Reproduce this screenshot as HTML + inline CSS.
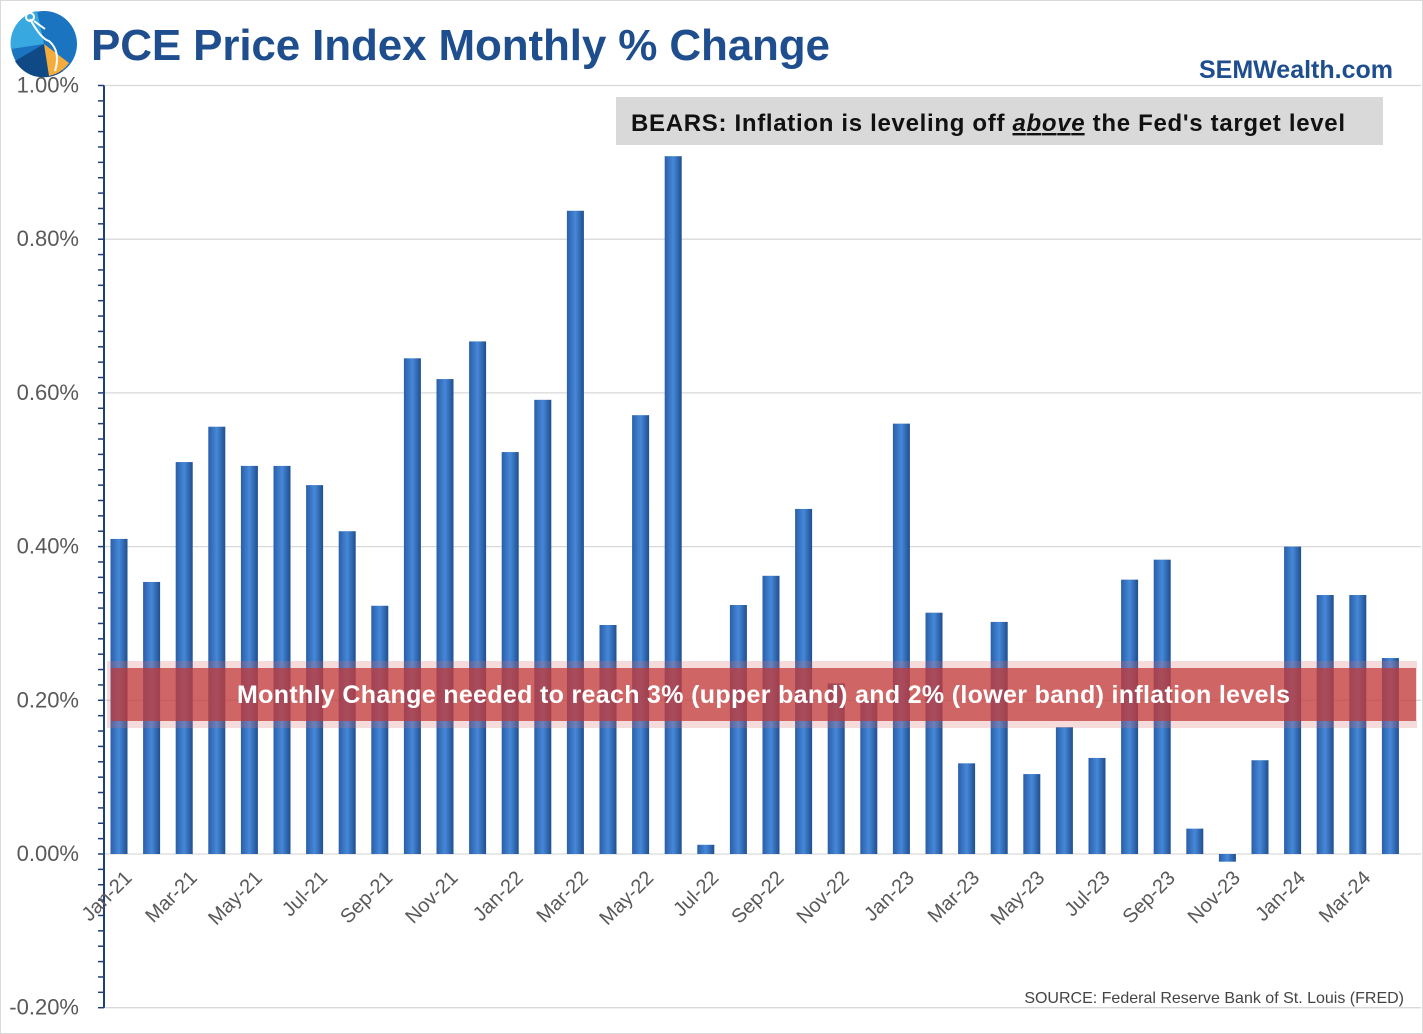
<!DOCTYPE html>
<html><head><meta charset="utf-8"><style>
body{margin:0;background:#fff;font-family:"Liberation Sans",sans-serif}
#wrap{position:relative;width:1423px;height:1034px;overflow:hidden;border:1px solid #d9d9d9;box-sizing:border-box}
</style></head><body>
<div id="wrap">
<svg id="chart" width="1423" height="1034" xmlns="http://www.w3.org/2000/svg">
<defs>
<linearGradient id="bg" x1="0" x2="1" y1="0" y2="0">
<stop offset="0" stop-color="#2a5ea8"/><stop offset="0.5" stop-color="#4688d8"/><stop offset="1" stop-color="#1f4e8f"/>
</linearGradient>
</defs>
<g>
<circle cx="43" cy="43" r="33" fill="#1b74bf"/>
<path d="M43 43 L10 48 A33 33 0 0 1 36 10 Z" fill="#38a9e0"/>
<path d="M43 43 L62 70 A33 33 0 0 1 14 60 Z" fill="#0f4a87"/>
<path d="M43 43 L68 62 A33 33 0 0 1 48 75 Z" fill="#f6ac3c"/>
<path d="M29 18 Q40 38 48 40 Q60 50 54 70 M33 20 L44 28" stroke="#fff" stroke-width="2" fill="none"/>
<circle cx="29" cy="16" r="4" fill="none" stroke="#fff" stroke-width="2"/>
</g>
<text x="90" y="59" font-size="44" font-weight="bold" fill="#1f4e8f" textLength="739">PCE Price Index Monthly % Change</text>
<text x="1392" y="77" text-anchor="end" font-size="25" font-weight="bold" fill="#1f4e8f">SEMWealth.com</text>
<g id="grid"></g>
<g id="bars"></g>
<g id="axis"></g>
<g>
<rect x="615" y="96" width="767" height="48" fill="#d9d9d9"/>
<text x="630" y="130" font-size="24" font-weight="bold" fill="#111" textLength="714">BEARS: Inflation is leveling off <tspan font-style="italic" text-decoration="underline">above</tspan> the Fed's target level</text>
</g>
<g>
<rect x="106" y="660" width="1310" height="67" fill="rgba(220,110,110,0.25)"/>
<rect x="110" y="667" width="1305" height="53" fill="rgba(192,55,55,0.72)"/>
<text x="236" y="702" font-size="25" font-weight="bold" fill="#fff" textLength="1053">Monthly Change needed to reach 3% (upper band) and 2% (lower band) inflation levels</text>
</g>
<text x="1403" y="1002" text-anchor="end" font-size="16" fill="#444">SOURCE: Federal Reserve Bank of St. Louis (FRED)</text>
</svg>
</div>
<script>
const months = ["Jan-21","Feb-21","Mar-21","Apr-21","May-21","Jun-21","Jul-21","Aug-21","Sep-21","Oct-21","Nov-21","Dec-21","Jan-22","Feb-22","Mar-22","Apr-22","May-22","Jun-22","Jul-22","Aug-22","Sep-22","Oct-22","Nov-22","Dec-22","Jan-23","Feb-23","Mar-23","Apr-23","May-23","Jun-23","Jul-23","Aug-23","Sep-23","Oct-23","Nov-23","Dec-23","Jan-24","Feb-24","Mar-24","Apr-24"];
const values = [0.41,0.354,0.51,0.556,0.505,0.505,0.48,0.42,0.323,0.645,0.618,0.667,0.523,0.591,0.837,0.298,0.571,0.908,0.012,0.324,0.362,0.449,0.222,0.2,0.56,0.314,0.118,0.302,0.104,0.165,0.125,0.357,0.383,0.033,-0.01,0.122,0.40,0.337,0.337,0.255];
const yTicks = [-0.2,0,0.2,0.4,0.6,0.8,1.0];
const NS="http://www.w3.org/2000/svg";
const y0=853, pxPer=768.5;
const yS=v=>y0-v*pxPer;
const xS=i=>118+i*32.6;
function mk(tag,attrs,parent){const e=document.createElementNS(NS,tag);for(const k in attrs)e.setAttribute(k,attrs[k]);parent.appendChild(e);return e;}
const grid=document.getElementById('grid'),bars=document.getElementById('bars'),axis=document.getElementById('axis');
yTicks.forEach(t=>{
  const l=mk('line',{x1:103,x2:1420,y1:yS(t),y2:yS(t),stroke:'#d9d9d9','stroke-width':1.3},grid);
  
  
  const tx=mk('text',{x:78,y:yS(t)+7,'text-anchor':'end','font-size':22,fill:'#595959'},axis);
  tx.textContent=t.toFixed(2)+'%';
  
  
});
const ax=mk('line',{x1:103,x2:103,y1:yS(1.0),y2:yS(-0.2),stroke:'#1f3f77','stroke-width':2},axis);


for(let v=-0.2;v<=1.0001;v+=0.02){
  const tk=mk('line',{x1:97,x2:103,y1:yS(v),y2:yS(v),stroke:'#1f3f77','stroke-width':1.5},axis);
  
  
}
values.forEach((v,i)=>{
  const x=xS(i)-8.5, top=Math.min(yS(v),y0), h=Math.abs(yS(v)-y0);
  const r=mk('rect',{x:x,y:top,width:17,height:Math.max(h,1),fill:'url(#bg)'},bars);
  
  
  if(i%2===0){
    const t=mk('text',{x:xS(i)+14,y:878,'text-anchor':'end','font-size':20,fill:'#595959',transform:`rotate(-45 ${xS(i)+14} 878)`},axis);
    t.textContent=months[i];
    
    
  }
});
</script>
</body></html>
